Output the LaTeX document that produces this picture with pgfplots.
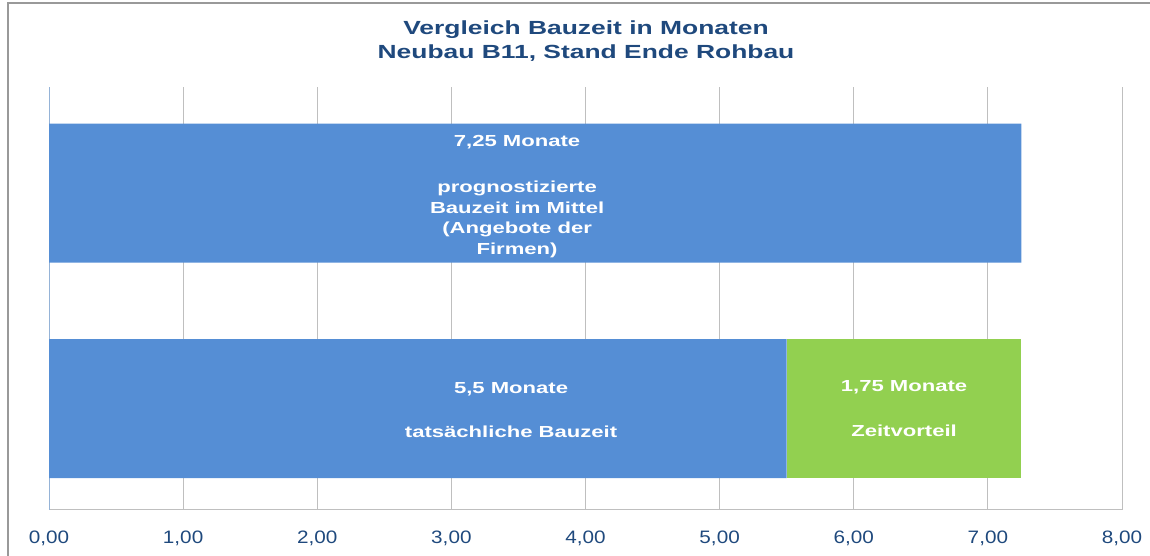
\documentclass[border=0pt]{standalone}
\usepackage{pgfplots}
\pgfplotsset{compat=1.18}
\usepackage{fontspec}
\setmainfont{Liberation Sans}
\newfontfamily\titlefont[FakeStretch=1.39]{Liberation Sans}
\newfontfamily\tickfont[FakeStretch=1.15]{Liberation Sans}
\newfontfamily\labelfont[FakeStretch=1.38]{Liberation Sans}
\definecolor{titleblue}{HTML}{1F497D}
\definecolor{barblue}{HTML}{558ED5}
\definecolor{bargreen}{HTML}{92D050}
\definecolor{gridgray}{HTML}{BFBFBF}
\definecolor{axisblue}{HTML}{95B3D7}
\begin{document}
\begin{tikzpicture}[x=1pt,y=1pt]
\useasboundingbox (0,0) rectangle (1150,556);
\draw[color=gray!80, line width=1.5pt] (8,-5) -- (8,553) -- (1155,553);
\node[align=center, text=titleblue, font={\titlefont\bfseries\fontsize{19}{24}\selectfont}] at (586,515) {Vergleich Bauzeit in Monaten\\Neubau B11, Stand Ende Rohbau};
\begin{axis}[
  at={(49pt,46pt)}, anchor=south west,
  scale only axis, width=1073pt, height=423pt,
  xbar stacked, bar width=139pt,
  xmin=0, xmax=8, ymin=-0.471, ymax=1.492,
  xtick={0,1,2,3,4,5,6,7,8}, ytick=\empty,
  axis x line*=bottom, axis y line*=left,
  x axis line style={draw=gridgray, line width=1pt, -},
  y axis line style={draw=axisblue, line width=1pt, -},
  xmajorgrids, grid style={draw=gridgray, line width=1pt},
  major tick length=0pt,
  /pgf/number format/fixed,
  /pgf/number format/fixed zerofill,
  /pgf/number format/precision=2,
  /pgf/number format/use comma,
  /pgf/number format/assume math mode=true,
  xticklabel style={text=titleblue, font={\tickfont\fontsize{18}{20}\selectfont}, anchor=north, inner sep=0pt, yshift=-21pt},
  clip=false,
]
\addplot[fill=barblue, draw=none] coordinates {(5.5,0) (7.25,1)};
\addplot[fill=bargreen, draw=none] coordinates {(1.75,0) (0,1)};
\coordinate (lt) at (axis cs:3.49,0.984);
\coordinate (lb) at (axis cs:3.445,-0.008);
\coordinate (lg) at (axis cs:6.375,0.0);
\end{axis}
\begin{scope}[every node/.style={align=center, text=white, inner sep=0pt, font={\labelfont\bfseries\fontsize{16}{20.5}\selectfont}}]
\node at (lt) {7,25 Monate\\[25.5pt]prognostizierte\\Bauzeit im Mittel\\(Angebote der\\Firmen)};
\node at (lb) {5,5 Monate\\[23pt]tatsächliche Bauzeit};
\node at (lg) {1,75 Monate\\[24.5pt]Zeitvorteil};
\end{scope}
\end{tikzpicture}
\end{document}
